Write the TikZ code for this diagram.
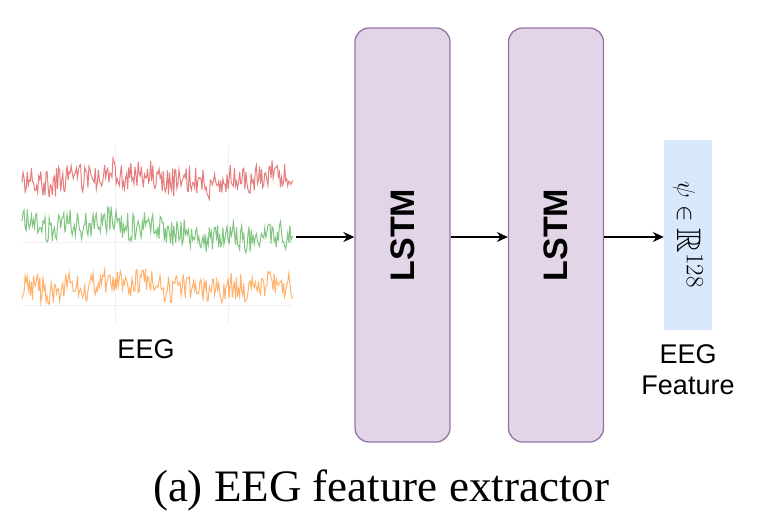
\documentclass[tikz,border=0pt]{standalone}
\usepackage{amsmath,amssymb}
\usepackage{fontspec}
\setmainfont{Liberation Serif}
\newfontfamily\arialfont{Liberation Sans}
\usetikzlibrary{arrows.meta}
\definecolor{lstmfill}{HTML}{E1D5E7}
\definecolor{lstmdraw}{HTML}{9673A6}
\definecolor{featfill}{HTML}{DAE8FC}
\definecolor{eegred}{HTML}{D62728}
\definecolor{eeggreen}{HTML}{2CA02C}
\definecolor{eegorange}{HTML}{FF7F0E}
\tikzset{
  lstmbox/.style={draw=lstmdraw, fill=lstmfill, line width=1.3pt, rounded corners=14pt,
    minimum width=95pt, minimum height=414pt, inner sep=0pt,
    font=\arialfont\bfseries\fontsize{34}{40}\selectfont},
  featbox/.style={fill=featfill, minimum width=48pt, minimum height=190pt, inner sep=0pt,
    font=\fontsize{34}{38}\selectfont},
  lbl/.style={font=\arialfont\fontsize{27}{31}\selectfont, align=center},
  flow/.style={->, line width=1.3pt}
}

\begin{document}
\begin{tikzpicture}[x=1pt, y=-1pt, >={Stealth[length=11pt, width=10pt]}]
	\useasboundingbox (0,0) rectangle (770,525);
	% faint grid behind the signals
	\foreach \x in {115, 228} {
		\draw[gray!12, line width=0.8pt] (\x,145) -- (\x,325);
	}
	\foreach \y in {242, 305} {
		\draw[gray!12, line width=0.8pt] (22,\y) -- (293,\y);
	}
	% EEG channels
	\pgfmathsetseed{7}
	\foreach \c/\base/\drift in {eegred/177/2, eeggreen/220/20, eegorange/285/2} {
		\draw[\c, line width=1pt, opacity=0.6] plot[domain=22:293, samples=260]
			(\x, {\base + \drift*(\x-22)/271 + 4*sin(2.2*\x) + 3*sin(9*\x) + 14*rand});
	}
	\coordinate (eegout) at (296,237);
	\node[lbl] (eeglbl) at (146,349) {EEG};
	% LSTM layers and feature
	\node[lstmbox] (lstm1) at (402.5,235) {\rotatebox{90}{LSTM}};
	\node[lstmbox] (lstm2) at (556,235) {\rotatebox{90}{LSTM}};
	\node[featbox] (feat) at (688,235) {\rotatebox{-90}{$\psi\in\mathbb{R}^{128}$}};
	\node[lbl] (featlbl) at (688,370) {EEG\\Feature};
	% connections
	\draw[flow] (eegout) -- (eegout -| lstm1.west);
	\draw[flow] (lstm1.east |- eegout) -- (lstm2.west |- eegout);
	\draw[flow] (lstm2.east |- eegout) -- (feat.west |- eegout);
	% caption
	\node[font=\fontsize{45}{50}\selectfont] (cap) at (381,490) {(a) EEG feature extractor};
\end{tikzpicture}
\end{document}
